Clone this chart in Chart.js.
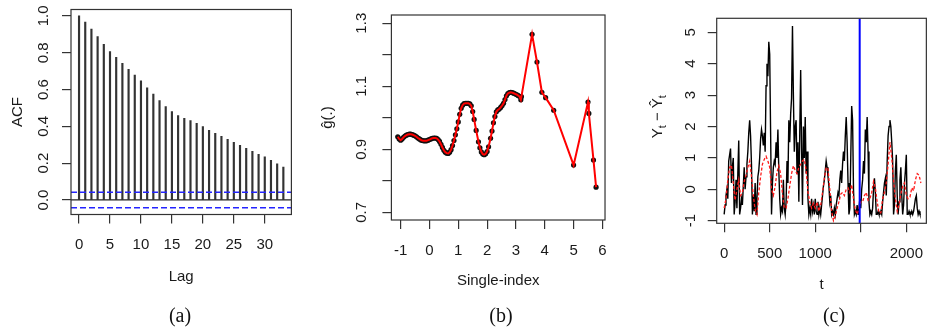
<!DOCTYPE html>
<html><head><meta charset="utf-8">
<script src="https://cdn.jsdelivr.net/npm/chart.js@4.4.1/dist/chart.umd.min.js"></script>
<style>
html,body{margin:0;padding:0;background:#fff;width:936px;height:330px;overflow:hidden;position:relative;}
canvas{position:absolute;top:0;}
.cap{position:absolute;top:305px;font-size:20px;line-height:20px;font-family:"Liberation Serif","Times New Roman",serif;color:#111;transform:translateX(-50%);white-space:nowrap;}
</style></head><body>
<canvas id="ca" width="310" height="330" style="left:0px"></canvas>
<canvas id="cb" width="310" height="330" style="left:310px"></canvas>
<canvas id="cc" width="316" height="330" style="left:620px"></canvas>
<div class="cap" style="left:180px">(a)</div>
<div class="cap" style="left:501px">(b)</div>
<div class="cap" style="left:834px">(c)</div>
<script>
// ---------------- data ----------------
// (a) sample autocorrelation function
const acfLags = [0,1,2,3,4,5,6,7,8,9,10,11,12,13,14,15,16,17,18,19,20,21,22,23,24,25,26,27,28,29,30,31,32,33];
const acfValues = [1.000,0.967,0.929,0.888,0.846,0.806,0.775,0.743,0.710,0.678,0.647,0.609,0.576,0.540,0.507,0.480,0.458,0.444,0.431,0.417,0.399,0.379,0.362,0.346,0.330,0.313,0.297,0.281,0.264,0.248,0.234,0.216,0.196,0.179];
const acfBand = 0.042;
const acfXTicks = [0,5,10,15,20,25,30];
const acfXLabels = ['0','5','10','15','20','25','30'];
const acfYTicks = [0,0.2,0.4,0.6,0.8,1.0];
const acfYLabels = ['0.0','0.2','0.4','0.6','0.8','1.0'];

// (b) estimated link function against the single index
const gIndex = [-1.10,-1.05,-1.00,-0.95,-0.90,-0.85,-0.80,-0.75,-0.70,-0.65,-0.60,-0.55,-0.50,-0.45,-0.40,-0.35,-0.30,-0.25,-0.20,-0.15,-0.10,-0.05,0.00,0.05,0.10,0.15,0.20,0.25,0.30,0.35,0.40,0.45,0.50,0.55,0.60,0.65,0.70,0.75,0.80,0.85,0.90,0.95,1.00,1.05,1.10,1.15,1.20,1.25,1.30,1.35,1.40,1.45,1.50,1.55,1.62,1.70,1.75,1.80,1.85,1.90,1.95,2.00,2.05,2.12,2.17,2.22,2.27,2.32,2.37,2.42,2.47,2.52,2.57,2.62,2.67,2.72,2.77,2.82,2.87,2.92,2.97,3.02,3.07,3.12,3.17,3.19,3.56,3.73,3.90,4.03,4.31,5.00,5.50,5.53,5.69,5.78];
const gValues = [0.940,0.933,0.929,0.933,0.938,0.942,0.945,0.947,0.948,0.948,0.947,0.945,0.943,0.940,0.936,0.933,0.930,0.928,0.927,0.927,0.927,0.929,0.931,0.933,0.935,0.936,0.936,0.935,0.931,0.925,0.916,0.906,0.897,0.891,0.888,0.887,0.891,0.899,0.912,0.928,0.946,0.965,0.987,1.011,1.030,1.040,1.045,1.046,1.046,1.046,1.044,1.038,1.020,0.995,0.960,0.924,0.905,0.892,0.885,0.883,0.886,0.893,0.908,0.935,0.958,0.984,1.004,1.019,1.025,1.028,1.033,1.039,1.046,1.058,1.070,1.077,1.080,1.081,1.080,1.078,1.076,1.074,1.071,1.068,1.057,1.067,1.265,1.177,1.081,1.064,1.024,0.850,1.050,1.014,0.866,0.780];
const gXTicks = [-1,0,1,2,3,4,5,6];
const gXLabels = ['-1','0','1','2','3','4','5','6'];
const gYTicks = [0.7,0.8,0.9,1.0,1.1,1.2,1.3];
const gYLabels = ['0.7','','0.9','','1.1','','1.3'];

// (c) observed series (black, every 10 steps) and fitted series (red, every 20 steps)
const obsStep = 10;
const obsValues = [
-0.8,-0.5,-0.2,0.0,-0.3,0.9,1.1,1.3,0.2,0.7,
1.0,-0.8,-0.4,0.3,-0.6,0.5,1.55,-0.8,-0.6,-0.3,
-0.5,0.1,0.7,0.0,0.4,0.8,1.2,1.8,2.2,1.7,
0.8,-0.8,-0.2,-0.7,0.2,-0.8,-0.3,0.4,0.6,1.0,
1.6,1.9,1.7,1.4,1.8,1.2,3.3,4.0,3.6,4.7,
4.3,1.8,-0.8,0.2,0.7,0.9,0.8,1.5,1.0,1.9,
0.6,-0.3,-0.8,-0.6,-0.7,0.3,-0.6,-0.8,-0.4,0.9,
0.2,2.2,1.5,2.4,2.9,5.2,3.0,1.2,2.0,2.2,
0.5,1.5,-0.4,1.8,3.8,1.3,-0.5,2.0,1.0,2.3,
0.5,1.2,-0.3,-0.8,-0.6,-0.8,-0.3,-0.7,-0.5,-0.8,
-0.3,-0.7,-0.8,-0.4,-0.8,-0.6,-0.8,-0.5,-0.2,0.1,
0.3,0.6,0.9,0.7,0.4,0.1,-0.4,-0.2,-0.8,-0.7,
-0.8,-0.6,-0.8,-0.5,-0.3,-0.1,-0.2,0.3,0.6,0.2,
0.8,1.2,0.9,1.7,2.3,1.5,0.2,-0.8,-0.6,1.0,
2.65,2.2,0.0,-0.8,-0.7,-0.8,-0.5,-0.8,-0.6,-0.3,
-0.6,0.0,0.3,0.9,0.5,1.9,1.5,2.3,1.2,-0.4,
-0.8,-0.7,-0.8,-0.6,0.0,0.35,-0.1,-0.8,-0.8,-0.7,
-0.8,-0.8,-0.7,-0.8,-0.4,-0.1,0.2,0.35,-0.2,0.9,
1.7,2.0,2.2,2.0,1.5,0.9,-0.8,-0.5,0.6,1.1,
-0.2,-0.8,-0.4,0.3,0.7,-0.2,-0.8,-0.5,0.2,0.6,
1.1,-0.8,-0.8,-0.7,-0.8,-0.8,-0.7,-0.8,-0.7,-0.5,
-0.3,-0.2,-0.6,-0.8,-0.7,-0.8,-0.8];
const fitStep = 20;
const fitValues = [
-0.6,-0.3,0.3,0.7,0.77,0.2,-0.35,0.0,0.3,-0.2,
-0.1,0.25,0.45,0.7,0.9,0.4,-0.2,-0.65,-0.8,-0.1,
0.4,0.8,0.95,1.05,0.9,0.7,0.0,-0.2,0.1,0.55,
0.75,0.5,-0.15,-0.6,-0.6,-0.3,0.1,0.5,0.75,0.6,
0.5,0.7,0.8,0.9,0.95,0.6,-0.1,-0.4,-0.6,-0.45,
-0.6,-0.4,-0.7,-0.5,-0.1,0.35,0.7,0.65,0.0,-0.7,
-1.0,-0.85,-0.6,-0.4,-0.15,-0.1,-0.2,0.0,0.05,-0.1,
0.15,-0.3,-0.65,-0.8,-0.6,-0.4,-0.4,-0.2,-0.1,-0.35,
-0.3,-0.1,0.25,0.05,-0.4,-0.75,-0.75,-0.3,-0.1,0.2,
0.8,1.5,1.0,0.3,-0.3,-0.7,-0.5,-0.15,0.1,0.2,
-0.2,-0.3,-0.25,0.05,-0.05,0.3,0.5,0.45,0.2];
const splitTime = 1488;
const tsXTicks = [0,500,1000,1500,2000];
const tsXLabels = ['0','500','1000','','2000'];
const tsYTicks = [-1,0,1,2,3,4,5];
const tsYLabels = ['-1','0','1','2','3','4','5'];

// ---------------- style ----------------
const FF = '"Liberation Sans", Arial, Helvetica, sans-serif';
const TXT = '#1a1a1a';
const AX = '#333333';
const FONT = {family: FF, size: 15};

function rPlugin(cfg){
  return {
    id: 'rstyle',
    afterDraw(chart){
      const ctx = chart.ctx, a = chart.chartArea, ys = chart.scales.y;
      ctx.save();
      ctx.strokeStyle = AX; ctx.lineWidth = 1.2;
      ctx.strokeRect(a.left, a.top, a.right - a.left, a.bottom - a.top);
      ctx.fillStyle = TXT; ctx.font = '15px ' + FF;
      ctx.textAlign = 'center'; ctx.textBaseline = 'middle';
      cfg.yTicks.forEach((v, i) => {
        const lab = cfg.yLabels[i]; if (!lab) return;
        ctx.save();
        ctx.translate(cfg.yLabelX, ys.getPixelForValue(v));
        ctx.rotate(-Math.PI / 2);
        ctx.fillText(lab, 0, 0);
        ctx.restore();
      });
      if (cfg.extra) cfg.extra(chart);
      ctx.restore();
    }
  };
}

function axes(o){
  return {
    x: {
      type: 'linear', min: o.xMin, max: o.xMax, offset: false,
      afterBuildTicks: s => { s.ticks = o.xTicks.map(v => ({value: v})); },
      afterFit: s => { s.height = o.H - o.bottom; },
      grid: {drawOnChartArea: false, drawTicks: true, tickLength: 9, color: AX, lineWidth: 1.2, offset: false},
      border: {display: false},
      ticks: {color: TXT, font: FONT, padding: o.xPad, maxRotation: 0, minRotation: 0, autoSkip: false,
              callback: (v, i) => o.xLabels[i]},
      title: {display: !!o.xTitle, text: o.xTitle, color: TXT, font: FONT, padding: {top: 0, bottom: o.xTitlePad}}
    },
    y: {
      type: 'linear', min: o.yMin, max: o.yMax,
      afterBuildTicks: s => { s.ticks = o.yTicks.map(v => ({value: v})); },
      afterFit: s => { s.width = o.left; },
      grid: {drawOnChartArea: false, drawTicks: true, tickLength: 9, color: AX, lineWidth: 1.2},
      border: {display: false},
      ticks: {display: false},
      title: {display: !!o.yTitle, text: o.yTitle, color: TXT, font: FONT, padding: {top: o.yTitlePad, bottom: 0}}
    }
  };
}

const common = {
  responsive: false, animation: false, devicePixelRatio: 1,
  plugins: {legend: {display: false}, tooltip: {enabled: false}},
  elements: {point: {radius: 0}, line: {tension: 0}}
};

// ---------------- (a) ----------------
const A = {H: 330, W: 310, left: 71, right: 291.4, top: 9.5, bottom: 214.5,
  xMin: -1.3, xMax: 34.3, yMin: -0.079, yMax: 1.035,
  xTicks: acfXTicks, xLabels: acfXLabels, yTicks: acfYTicks, xPad: 12,
  xTitle: 'Lag', xTitlePad: 44.5, yTitle: 'ACF', yTitlePad: 8.5};
new Chart(document.getElementById('ca'), {
  type: 'bar',
  data: {datasets: [
    {type: 'line', data: [{x: A.xMin, y: acfBand}, {x: A.xMax, y: acfBand}], borderColor: '#2424ff', borderWidth: 1.4, borderDash: [6, 3], pointRadius: 0, order: 1},
    {type: 'line', data: [{x: A.xMin, y: -acfBand}, {x: A.xMax, y: -acfBand}], borderColor: '#2424ff', borderWidth: 1.4, borderDash: [6, 3], pointRadius: 0, order: 1},
    {type: 'line', data: [{x: A.xMin, y: 0}, {x: A.xMax, y: 0}], borderColor: '#222', borderWidth: 1.3, pointRadius: 0, order: 2},
    {type: 'bar', data: acfLags.map((l, i) => ({x: l, y: acfValues[i]})), backgroundColor: '#333', borderWidth: 0, barThickness: 1.5, order: 3}
  ]},
  options: Object.assign({}, common, {
    layout: {padding: {left: 0, top: A.top, right: A.W - A.right, bottom: 0}},
    scales: axes(A)
  }),
  plugins: [rPlugin({yTicks: acfYTicks, yLabels: acfYLabels, yLabelX: 44})]
});

// ---------------- (b) ----------------
const B = {H: 330, W: 310, left: 81.4, right: 301.3, top: 15, bottom: 220,
  xMin: -1.32, xMax: 6.09, yMin: 0.676, yMax: 1.326,
  xTicks: gXTicks, xLabels: gXLabels, yTicks: gYTicks, xPad: 13.3,
  xTitle: 'Single-index', xTitlePad: 40.2, yTitle: 'ĝ(.)', yTitlePad: 9};
const gPts = gIndex.map((x, i) => ({x: x, y: gValues[i]}));
new Chart(document.getElementById('cb'), {
  type: 'scatter',
  data: {datasets: [
    {data: gPts, showLine: true, borderColor: '#ff0000', borderWidth: 2, pointRadius: 0, order: 1},
    {data: gPts, showLine: false, pointRadius: 2.6, pointBackgroundColor: '#111', pointBorderWidth: 0, order: 2}
  ]},
  options: Object.assign({}, common, {
    layout: {padding: {left: 0, top: B.top, right: B.W - B.right, bottom: 0}},
    scales: axes(B)
  }),
  plugins: [rPlugin({yTicks: gYTicks, yLabels: gYLabels, yLabelX: 52})]
});

// ---------------- (c) ----------------
const C = {H: 330, W: 316, left: 96.7, right: 315, top: 18.3, bottom: 223.3,
  xMin: -82, xMax: 2220, yMin: -1.083, yMax: 5.446,
  xTicks: tsXTicks, xLabels: tsXLabels, yTicks: tsYTicks, xPad: 12.9,
  xTitle: 't', xTitlePad: 36.2, yTitle: '', yTitlePad: 0};
function drawTsTitle(chart){
  const ctx = chart.ctx;
  const big = '15px ' + FF, small = '11px ' + FF;
  const parts = [{t: 'Y', f: big, dy: 0}, {t: 't', f: small, dy: 3.5}, {t: ' \u2212 ', f: big, dy: 0},
                 {t: '\u0176', f: big, dy: 0}, {t: 't', f: small, dy: 3.5}];
  let w = 0;
  parts.forEach(p => { ctx.font = p.f; p.w = ctx.measureText(p.t).width; w += p.w; });
  ctx.save();
  ctx.translate(42, 116.7); ctx.rotate(-Math.PI / 2);
  ctx.textAlign = 'left'; ctx.textBaseline = 'alphabetic'; ctx.fillStyle = TXT;
  let x = -w / 2;
  parts.forEach(p => { ctx.font = p.f; ctx.fillText(p.t, x, p.dy); x += p.w; });
  ctx.restore();
}
new Chart(document.getElementById('cc'), {
  type: 'scatter',
  data: {datasets: [
    {data: [{x: splitTime, y: C.yMin}, {x: splitTime, y: C.yMax}], showLine: true, borderColor: '#0000ff', borderWidth: 2, pointRadius: 0, order: 1},
    {data: fitValues.map((v, i) => ({x: i * fitStep, y: v})), showLine: true, borderColor: '#ff1a1a', borderWidth: 1.3, borderDash: [3, 2], pointRadius: 0, order: 2},
    {data: obsValues.map((v, i) => ({x: i * obsStep, y: v})), showLine: true, borderColor: '#000', borderWidth: 1.4, pointRadius: 0, order: 3}
  ]},
  options: Object.assign({}, common, {
    layout: {padding: {left: 0, top: C.top, right: C.W - C.right, bottom: 0}},
    scales: axes(C)
  }),
  plugins: [rPlugin({yTicks: tsYTicks, yLabels: tsYLabels, yLabelX: 70.8, extra: drawTsTitle})]
});
</script>
</body></html>
